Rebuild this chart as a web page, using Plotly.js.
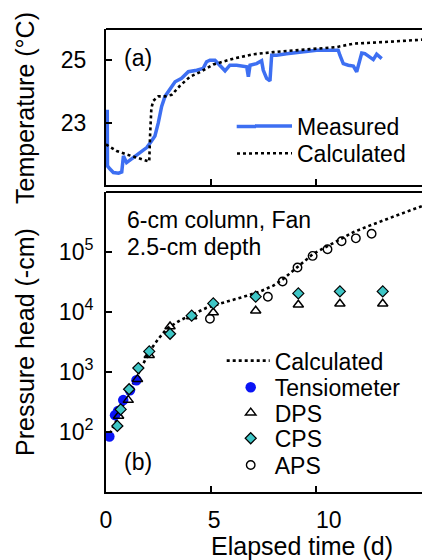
<!DOCTYPE html>
<html><head><meta charset="utf-8">
<script src="https://cdn.plot.ly/plotly-3.0.1.min.js"></script>
<style>html,body{margin:0;padding:0;overflow:hidden;background:#fff}</style>
</head><body><div id="chart" style="width:422px;height:560px"></div>
<script>
// ---- Panel (a): temperature ----
const tMeasured = [0.06,0.07,0.19,0.35,0.60,0.75,0.83,0.98,1.30,1.62,1.94,2.17,2.33,2.49,2.65,2.81,3.05,3.29,3.60,3.92,4.32,4.63,4.79,4.95,5.19,5.43,5.67,5.90,6.22,6.70,6.78,6.86,7.17,7.41,7.49,7.65,7.81,7.89,8.13,8.60,9.24,10.03,10.83,11.06,11.14,11.30,11.54,11.78,11.94,12.02,12.18,12.33,12.57,12.73,12.89,13.13];
const tempMeasured = [23.41,21.61,21.51,21.40,21.38,21.42,21.93,21.72,21.88,22.04,22.20,22.41,22.57,22.99,23.52,23.84,24.10,24.31,24.42,24.63,24.68,24.74,24.95,25.00,25.00,24.84,24.66,24.84,24.84,24.79,24.47,24.84,24.89,24.98,24.68,24.42,24.34,25.16,25.16,25.21,25.26,25.32,25.32,25.32,25.16,24.89,24.84,24.81,24.63,24.84,25.23,25.21,25.11,25.02,25.19,25.05];
const tCalcTemp = [0.0,0.11,0.51,0.98,1.46,1.94,2.06,2.10,2.16,2.25,2.49,2.81,3.13,3.52,4.00,4.48,5.11,6.06,7.02,7.97,8.92,10.03,10.98,11.78,13.21,15.10];
const tempCalc = [22.30,22.25,22.09,21.98,21.88,21.77,21.75,22.60,23.45,23.70,23.84,23.84,23.89,24.18,24.47,24.62,24.86,25.05,25.19,25.26,25.32,25.37,25.42,25.53,25.58,25.66];

// ---- Panel (b): pressure head ----
const tCalcHead = [0.03,0.19,0.51,0.83,1.14,1.46,1.78,2.10,2.49,2.89,3.52,4.16,4.79,5.43,6.06,6.70,7.33,7.97,8.44,8.92,9.40,9.87,10.51,11.14,11.78,12.41,13.21,14.00,15.10];
const headCalc = [78,95,158,295,501,832,1380,2290,3550,5250,7240,9330,11750,13800,15850,18600,21900,27500,35500,49000,69200,93300,123000,162000,214000,263000,331000,427000,590000];
const tTensio = [0.16,0.43,0.57,0.82,1.14,1.45];
const headTensio = [84,191,223,340,498,728];
const tDPS = [0.60,1.06,1.50,2.06,3.05,4.08,5.11,7.13,9.16,11.14,13.18];
const headDPS = [185,340,760,1900,5750,8400,9800,10500,13200,13700,13700];
const tCPS = [0.54,0.70,1.10,1.54,2.06,3.05,4.08,5.11,7.13,9.16,11.14,13.18];
const headCPS = [126,238,516,1165,2200,4340,8700,13900,18000,20400,22000,22000];
const tAPS = [4.95,7.71,8.41,9.12,9.84,10.55,11.22,11.90,12.65];
const headAPS = [7700,18000,32300,55100,86100,111000,151000,169000,202000];

const xTickVals = [0,5,10];
const xTickText = ['0','\u00a05','\u00a0\u00a0\u00a0\u00a010'];
const tempTickVals = [23,25];
const headTickVals = [100,1000,10000,100000];
const headTickText = ['10<sup>2</sup>','10<sup>3</sup>','10<sup>4</sup>','10<sup>5</sup>'];

const FONT = 'Liberation Sans, Arial, Helvetica, sans-serif';
const W = 422, H = 560, ML = 106, MR = 0, MT = 29, MB = 68;
const PW = W - ML - MR, PH = H - MT - MB;
const px = v => (v - ML) / PW;
const py = v => (H - MB - v) / PH;

const MEAS_COLOR = '#3d6ff2';
const dotLine = {color:'#000', width:2.6, dash:'3px,3px'};

const traces = [
  {x:tMeasured, y:tempMeasured, xaxis:'x2', yaxis:'y2', mode:'lines', name:'Measured',
   line:{color:MEAS_COLOR, width:3.5}, legend:'legend6'},
  {x:tCalcTemp, y:tempCalc, xaxis:'x2', yaxis:'y2', mode:'lines', name:'Calculated',
   line:dotLine, legend:'legend7'},
  {x:tCalcHead, y:headCalc, xaxis:'x', yaxis:'y', mode:'lines', name:'Calculated',
   line:dotLine, legend:'legend'},
  {x:tTensio, y:headTensio, xaxis:'x', yaxis:'y', mode:'markers', name:'Tensiometer',
   marker:{symbol:'circle', size:10.5, color:'#0a14f5', line:{width:0}}, legend:'legend2'},
  {x:tDPS, y:headDPS, xaxis:'x', yaxis:'y', mode:'markers', name:'DPS',
   marker:{symbol:'triangle-up-open', size:9, color:'#000', line:{width:1.5, color:'#000'}}, legend:'legend3'},
  {x:tCPS, y:headCPS, xaxis:'x', yaxis:'y', mode:'markers', name:'CPS',
   marker:{symbol:'diamond', size:8.5, color:'#3ec6c6', line:{width:1.2, color:'#000'}}, legend:'legend4'},
  {x:tAPS, y:headAPS, xaxis:'x', yaxis:'y', mode:'markers', name:'APS',
   marker:{symbol:'circle-open', size:8.5, color:'#000', line:{width:1.4, color:'#000'}}, legend:'legend5'}
];

function leg(itemStartPx, rowPy, itemwidth){
  return {x:px(itemStartPx), y:py(rowPy), xanchor:'left', yanchor:'middle',
    bgcolor:'rgba(0,0,0,0)', borderwidth:0, itemwidth:itemwidth,
    font:{family:FONT, size:23, color:'#000'}, tracegroupgap:0};
}

const axisBase = {showline:true, linewidth:2, linecolor:'#000', ticks:'inside', ticklen:6,
  tickwidth:2, tickcolor:'#000', showgrid:false, zeroline:false, mirror:false,
  tickfont:{family:FONT, size:23, color:'#000'}};

const layout = {
  width:W, height:H, margin:{l:ML, r:MR, t:MT, b:MB},
  paper_bgcolor:'#fff', plot_bgcolor:'#fff',
  font:{family:FONT, size:23, color:'#000'},
  showlegend:true,
  xaxis:Object.assign({}, axisBase, {domain:[0,1], anchor:'y', range:[0,15.05],
    tickmode:'array', tickvals:xTickVals, ticktext:xTickText, ticklabelstandoff:6}),
  xaxis2:Object.assign({}, axisBase, {domain:[0,1], anchor:'y2', matches:'x', range:[0,15.05],
    tickmode:'array', tickvals:xTickVals, showticklabels:false}),
  yaxis:Object.assign({}, axisBase, {domain:[0, py(192)], anchor:'x', type:'log', range:[1,6],
    tickmode:'array', tickvals:headTickVals, ticktext:headTickText, ticklabelstandoff:6}),
  yaxis2:Object.assign({}, axisBase, {domain:[py(185),1], anchor:'x2', range:[21,26],
    tickmode:'array', tickvals:tempTickVals, ticklabelstandoff:13}),
  legend:leg(221.7, 360.7, 43),
  legend2:leg(226.7, 387.3, 38),
  legend3:leg(226.7, 412.7, 38),
  legend4:leg(226.7, 438.3, 38),
  legend5:leg(226.7, 465, 38),
  legend6:leg(250, 126, 37),
  legend7:leg(250, 153.3, 37),
  shapes:[
    {type:'line', xref:'paper', yref:'paper', x0:0, x1:1, y0:1, y1:1, line:{color:'#000', width:2}},
    {type:'line', xref:'paper', yref:'paper', x0:0, x1:1, y0:py(192), y1:py(192), line:{color:'#000', width:2}},
    // extend the short legend samples of panel (a) to the reference's longer sample length
    {type:'line', xref:'paper', yref:'paper', x0:px(236.7), x1:px(256), y0:py(126.5), y1:py(126.5), line:{color:MEAS_COLOR, width:3.5}},
    {type:'line', xref:'paper', yref:'paper', x0:px(237), x1:px(255), y0:py(153.5), y1:py(153.5), line:dotLine}
  ],
  annotations:[
    {text:'(a)', xref:'paper', yref:'paper', x:px(138), y:py(58), xanchor:'center', yanchor:'middle', showarrow:false, font:{family:FONT, size:23}},
    {text:'(b)', xref:'paper', yref:'paper', x:px(138), y:py(462), xanchor:'center', yanchor:'middle', showarrow:false, font:{family:FONT, size:23}},
    {text:'6-cm column, Fan', xref:'paper', yref:'paper', x:px(125), y:py(220), xanchor:'left', yanchor:'middle', showarrow:false, font:{family:FONT, size:23}},
    {text:'2.5-cm depth', xref:'paper', yref:'paper', x:px(125), y:py(247), xanchor:'left', yanchor:'middle', showarrow:false, font:{family:FONT, size:23}},
    {text:'Elapsed time (d)', xref:'paper', yref:'paper', x:px(302), y:py(546), xanchor:'center', yanchor:'middle', showarrow:false, font:{family:FONT, size:25}},
    {text:'Temperature (°C)', xref:'paper', yref:'paper', x:px(25), y:py(108), xanchor:'center', yanchor:'middle', textangle:-90, showarrow:false, font:{family:FONT, size:25}},
    {text:'Pressure head (-cm)', xref:'paper', yref:'paper', x:px(25), y:py(342), xanchor:'center', yanchor:'middle', textangle:-90, showarrow:false, font:{family:FONT, size:25}}
  ]
};

Plotly.newPlot('chart', traces, layout, {displayModeBar:false, staticPlot:true});
</script></body></html>
